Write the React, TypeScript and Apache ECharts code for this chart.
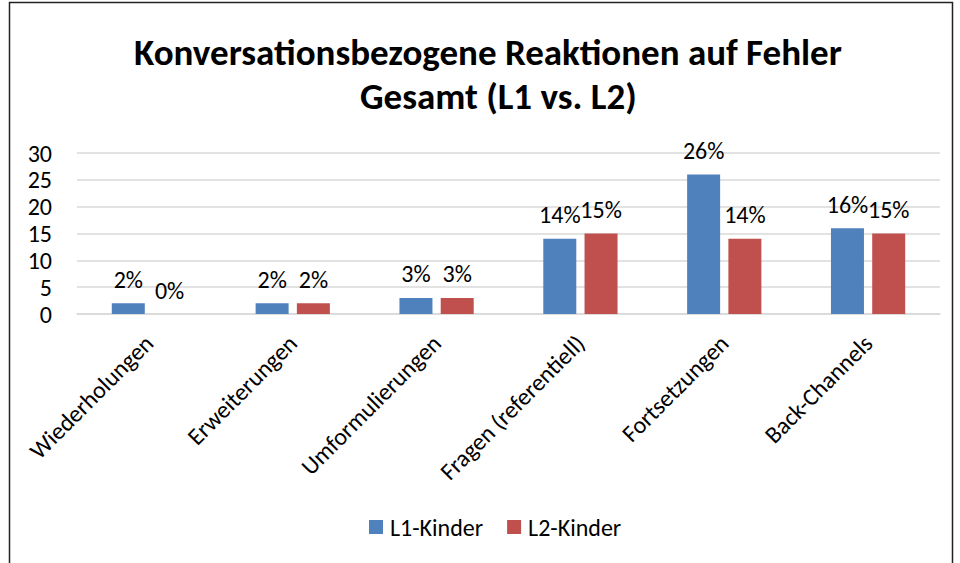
import React, { useEffect, useRef } from "react";
import * as echarts from "echarts";

const categories = ["Wiederholungen", "Erweiterungen", "Umformulierungen", "Fragen (referentiell)", "Fortsetzungen", "Back-Channels"];
const l1Values = [2, 2, 3, 14, 26, 16];
const l2Values = [0, 2, 3, 15, 14, 15];
const seriesNames = ["L1-Kinder", "L2-Kinder"];
const titleLines = ["Konversationsbezogene Reaktionen auf Fehler", "Gesamt (L1 vs. L2)"];

const FONT = 'Carlito, "Liberation Sans Narrow", "Open Sans", "Liberation Sans", sans-serif';

export default function App() {
  const ref = useRef<HTMLDivElement>(null);
  useEffect(() => {
    const chart = echarts.init(ref.current!, null, { renderer: "svg" });
    const label = {
      show: true,
      position: "top",
      distance: 12,
      formatter: "{c}%",
      color: "#000",
      fontSize: 24,
      fontFamily: FONT,
    };
    const titleStyle = { fontSize: 37, fontWeight: "bold", color: "#000", fontFamily: FONT };
    chart.setOption({
      animation: false,
      backgroundColor: "#fff",
      textStyle: { fontFamily: FONT },
      title: [
        { text: titleLines[0], left: 134, top: 34, padding: 0, textStyle: titleStyle },
        { text: titleLines[1], left: 360, top: 78, padding: 0, textStyle: titleStyle },
      ],
      graphic: [
        {
          type: "rect",
          shape: { x: 9.5, y: 2.5, width: 943, height: 620 },
          style: { fill: "none", stroke: "#222", lineWidth: 1.5 },
          silent: true,
        },
      ],
      legend: {
        data: seriesNames,
        bottom: 19,
        left: 364,
        itemWidth: 14,
        itemHeight: 14,
        itemGap: 24,
        icon: "rect",
        textStyle: { fontSize: 24, color: "#000", fontFamily: FONT, padding: [0, 0, 0, 2] },
      },
      grid: { left: 77, right: 20, top: 153, bottom: 249, containLabel: false },
      xAxis: {
        type: "category",
        data: categories,
        axisLine: { lineStyle: { color: "#d9d9d9", width: 1.5 } },
        axisTick: { show: false },
        axisLabel: { rotate: 45, fontSize: 24, color: "#000", interval: 0, margin: 25, fontFamily: FONT },
      },
      yAxis: {
        type: "value",
        min: 0,
        max: 30,
        interval: 5,
        axisLine: { show: false },
        axisTick: { show: false },
        splitLine: { lineStyle: { color: "#d9d9d9", width: 1.5 } },
        axisLabel: { fontSize: 24, color: "#000", margin: 25, fontFamily: FONT },
      },
      series: [
        {
          name: seriesNames[0],
          type: "bar",
          data: l1Values,
          barWidth: 33,
          barGap: "25%",
          itemStyle: { color: "#4f81bd" },
          label,
        },
        {
          name: seriesNames[1],
          type: "bar",
          data: l2Values,
          barWidth: 33,
          itemStyle: { color: "#c0504d" },
          label,
        },
      ],
    });
    return () => chart.dispose();
  }, []);
  return <div ref={ref} style={{ position: "fixed", left: 0, top: 0, width: 960, height: 563 }} />;
}
